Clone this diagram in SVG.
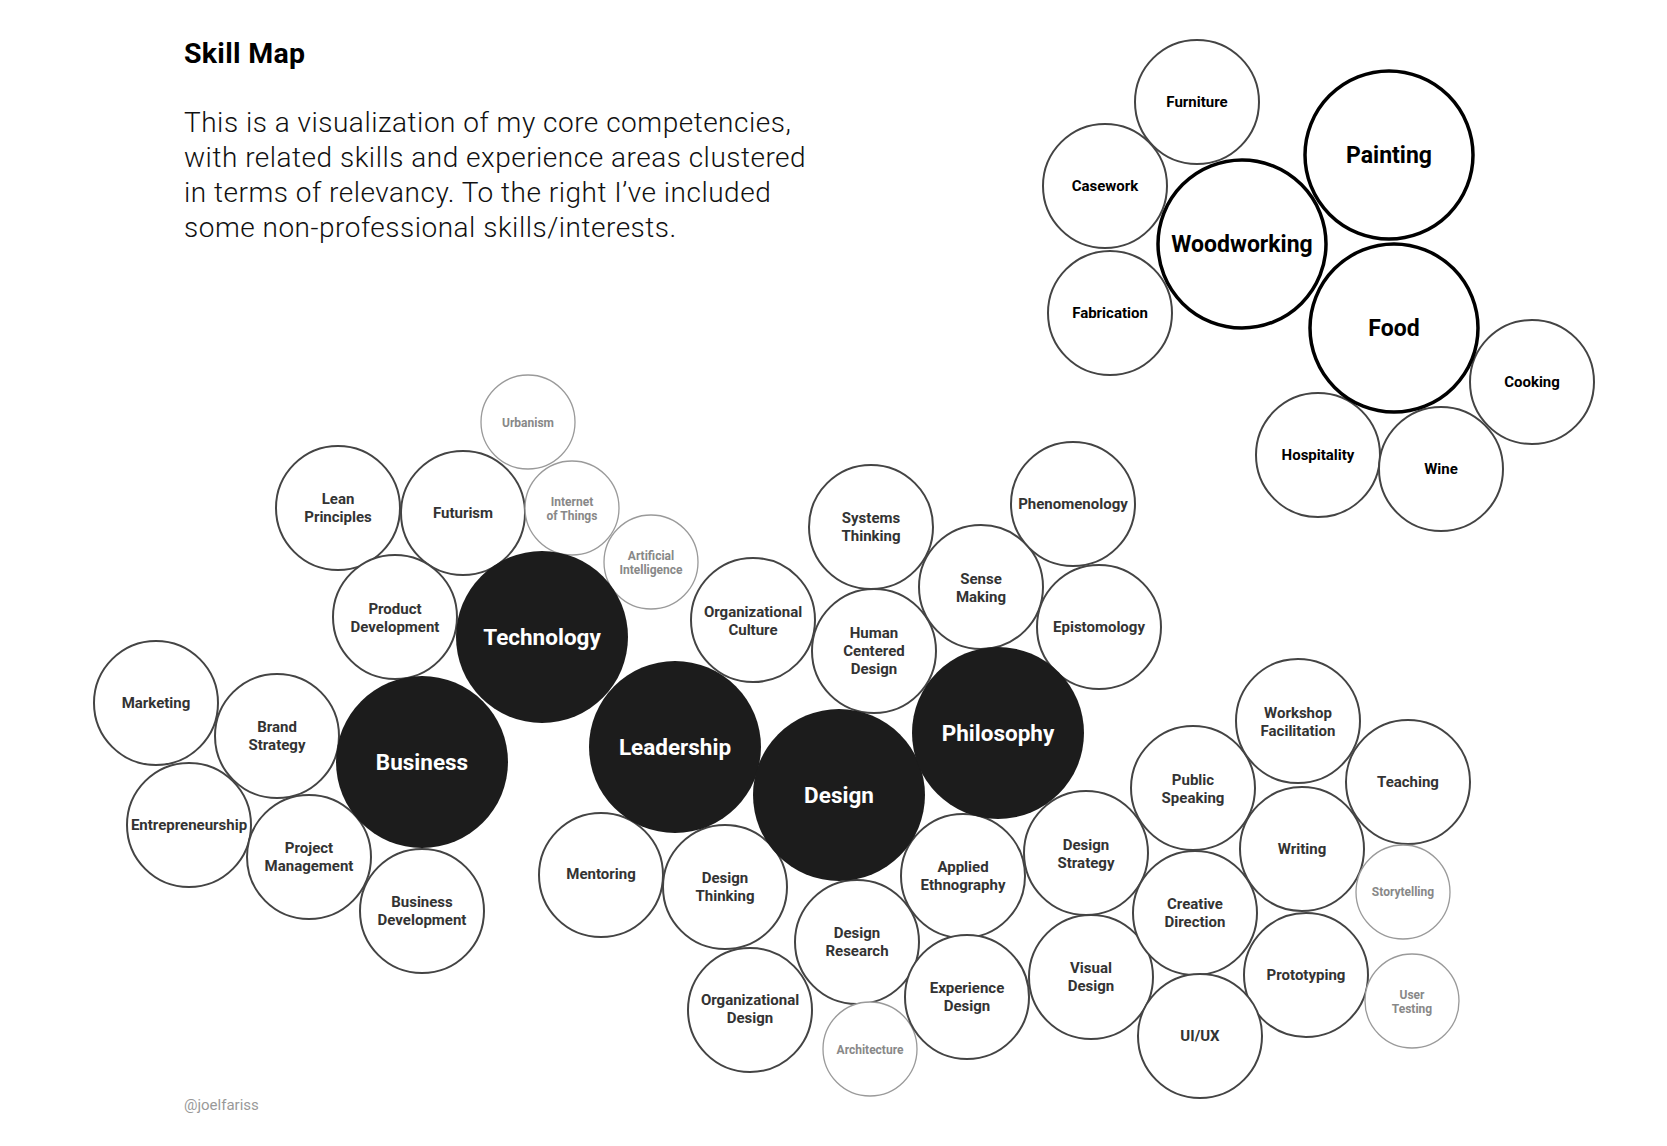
<svg xmlns="http://www.w3.org/2000/svg" width="1667" height="1146" viewBox="0 0 1667 1146">
<style>
text{font-family:Roboto,"Liberation Sans",sans-serif;text-anchor:middle}
.n circle{fill:#fff;stroke:#444;stroke-width:2}
.n text{font-size:15px;font-weight:700;fill:#333}
.m circle{fill:#fff;stroke:#9a9a9a;stroke-width:1.3}
.m text{font-size:12px;font-weight:700;fill:#888}
.c circle{fill:#1c1c1c}
.c text{font-size:22.5px;font-weight:700;fill:#fff}
.h circle{fill:#fff;stroke:#444;stroke-width:2}
.h text{font-size:15px;font-weight:700;fill:#000}
.H circle{fill:#fff;stroke:#000;stroke-width:3.5}
.H text{font-size:23px;font-weight:700;fill:#000}
.title{font-size:28.5px;font-weight:700;fill:#000;text-anchor:start;letter-spacing:0.3px}
.para{font-family:"Roboto Light",Roboto,"Liberation Sans",sans-serif;font-size:28px;font-weight:300;fill:#111;text-anchor:start;letter-spacing:0.5px}
.foot{font-size:15px;font-weight:400;fill:#999;text-anchor:start}
</style>
<rect width="1667" height="1146" fill="#fff"/>
<g id="header">
<text class="title" x="184" y="63">Skill Map</text>
<text class="para" x="184" y="132">This is a visualization of my core competencies,</text>
<text class="para" x="184" y="167">with related skills and experience areas clustered</text>
<text class="para" x="184" y="202">in terms of relevancy. To the right I’ve included</text>
<text class="para" x="184" y="237">some non-professional skills/interests.</text>
</g>
<g id="connectors"></g>
<!-- hobbies -->
<g id="furniture" class="h"><circle cx="1197" cy="102" r="62"/><text x="1197" y="107">Furniture</text></g>
<g id="casework" class="h"><circle cx="1105" cy="186" r="62"/><text x="1105" y="191">Casework</text></g>
<g id="fabrication" class="h"><circle cx="1110" cy="313" r="62"/><text x="1110" y="318">Fabrication</text></g>
<g id="cooking" class="h"><circle cx="1532" cy="382" r="62"/><text x="1532" y="387">Cooking</text></g>
<g id="hospitality" class="h"><circle cx="1318" cy="455" r="62"/><text x="1318" y="460">Hospitality</text></g>
<g id="wine" class="h"><circle cx="1441" cy="469" r="62"/><text x="1441" y="474">Wine</text></g>
<g id="woodworking" class="H"><circle cx="1242" cy="244" r="84"/><text x="1242" y="252">Woodworking</text></g>
<g id="painting" class="H"><circle cx="1389" cy="155" r="84"/><text x="1389" y="163">Painting</text></g>
<g id="food" class="H"><circle cx="1394" cy="328" r="84"/><text x="1394" y="336">Food</text></g>
<!-- main cluster -->
<g id="urbanism" class="m"><circle cx="528" cy="422" r="47"/><text x="528" y="427">Urbanism</text></g>
<g id="lean-principles" class="n"><circle cx="338" cy="508" r="62"/><text x="338" y="504">Lean</text><text x="338" y="522">Principles</text></g>
<g id="futurism" class="n"><circle cx="463" cy="513" r="62"/><text x="463" y="518">Futurism</text></g>
<g id="internet-of-things" class="m"><circle cx="572" cy="508" r="47"/><text x="572" y="506">Internet</text><text x="572" y="520">of Things</text></g>
<g id="artificial-intelligence" class="m"><circle cx="651" cy="562" r="47"/><text x="651" y="560">Artificial</text><text x="651" y="574">Intelligence</text></g>
<g id="product-development" class="n"><circle cx="395" cy="617" r="62"/><text x="395" y="614">Product</text><text x="395" y="632">Development</text></g>
<g id="marketing" class="n"><circle cx="156" cy="703" r="62"/><text x="156" y="708">Marketing</text></g>
<g id="brand-strategy" class="n"><circle cx="277" cy="736" r="62"/><text x="277" y="732">Brand</text><text x="277" y="750">Strategy</text></g>
<g id="entrepreneurship" class="n"><circle cx="189" cy="825" r="62"/><text x="189" y="830">Entrepreneurship</text></g>
<g id="project-management" class="n"><circle cx="309" cy="857" r="62"/><text x="309" y="853">Project</text><text x="309" y="871">Management</text></g>
<g id="business-development" class="n"><circle cx="422" cy="911" r="62"/><text x="422" y="907">Business</text><text x="422" y="925">Development</text></g>
<g id="organizational-culture" class="n"><circle cx="753" cy="620" r="62"/><text x="753" y="617">Organizational</text><text x="753" y="635">Culture</text></g>
<g id="mentoring" class="n"><circle cx="601" cy="875" r="62"/><text x="601" y="879">Mentoring</text></g>
<g id="design-thinking" class="n"><circle cx="725" cy="887" r="62"/><text x="725" y="883">Design</text><text x="725" y="901">Thinking</text></g>
<g id="systems-thinking" class="n"><circle cx="871" cy="527" r="62"/><text x="871" y="523">Systems</text><text x="871" y="541">Thinking</text></g>
<g id="human-centered-design" class="n"><circle cx="874" cy="651" r="62"/><text x="874" y="638">Human</text><text x="874" y="656">Centered</text><text x="874" y="674">Design</text></g>
<g id="sense-making" class="n"><circle cx="981" cy="587" r="62"/><text x="981" y="584">Sense</text><text x="981" y="602">Making</text></g>
<g id="phenomenology" class="n"><circle cx="1073" cy="504" r="62"/><text x="1073" y="509">Phenomenology</text></g>
<g id="epistomology" class="n"><circle cx="1099" cy="627" r="62"/><text x="1099" y="632">Epistomology</text></g>
<g id="applied-ethnography" class="n"><circle cx="963" cy="876" r="62"/><text x="963" y="872">Applied</text><text x="963" y="890">Ethnography</text></g>
<g id="design-research" class="n"><circle cx="857" cy="942" r="62"/><text x="857" y="938">Design</text><text x="857" y="956">Research</text></g>
<g id="organizational-design" class="n"><circle cx="750" cy="1010" r="62"/><text x="750" y="1005">Organizational</text><text x="750" y="1023">Design</text></g>
<g id="architecture" class="m"><circle cx="870" cy="1049" r="47"/><text x="870" y="1054">Architecture</text></g>
<g id="experience-design" class="n"><circle cx="967" cy="997" r="62"/><text x="967" y="993">Experience</text><text x="967" y="1011">Design</text></g>
<g id="design-strategy" class="n"><circle cx="1086" cy="853" r="62"/><text x="1086" y="850">Design</text><text x="1086" y="868">Strategy</text></g>
<g id="visual-design" class="n"><circle cx="1091" cy="977" r="62"/><text x="1091" y="973">Visual</text><text x="1091" y="991">Design</text></g>
<g id="public-speaking" class="n"><circle cx="1193" cy="788" r="62"/><text x="1193" y="785">Public</text><text x="1193" y="803">Speaking</text></g>
<g id="workshop-facilitation" class="n"><circle cx="1298" cy="721" r="62"/><text x="1298" y="718">Workshop</text><text x="1298" y="736">Facilitation</text></g>
<g id="teaching" class="n"><circle cx="1408" cy="782" r="62"/><text x="1408" y="787">Teaching</text></g>
<g id="writing" class="n"><circle cx="1302" cy="849" r="62"/><text x="1302" y="854">Writing</text></g>
<g id="storytelling" class="m"><circle cx="1403" cy="892" r="47"/><text x="1403" y="896">Storytelling</text></g>
<g id="creative-direction" class="n"><circle cx="1195" cy="913" r="62"/><text x="1195" y="909">Creative</text><text x="1195" y="927">Direction</text></g>
<g id="prototyping" class="n"><circle cx="1306" cy="975" r="62"/><text x="1306" y="980">Prototyping</text></g>
<g id="user-testing" class="m"><circle cx="1412" cy="1001" r="47"/><text x="1412" y="999">User</text><text x="1412" y="1013">Testing</text></g>
<g id="ui-ux" class="n"><circle cx="1200" cy="1036" r="62"/><text x="1200" y="1041">UI/UX</text></g>
<!-- core -->
<g id="technology" class="c"><circle cx="542" cy="637" r="86"/><text x="542" y="645">Technology</text></g>
<g id="business" class="c"><circle cx="422" cy="762" r="86"/><text x="422" y="770">Business</text></g>
<g id="leadership" class="c"><circle cx="675" cy="747" r="86"/><text x="675" y="755">Leadership</text></g>
<g id="design" class="c"><circle cx="839" cy="795" r="86"/><text x="839" y="803">Design</text></g>
<g id="philosophy" class="c"><circle cx="998" cy="733" r="86"/><text x="998" y="741">Philosophy</text></g>
<text class="foot" x="184" y="1110">@joelfariss</text>
</svg>
